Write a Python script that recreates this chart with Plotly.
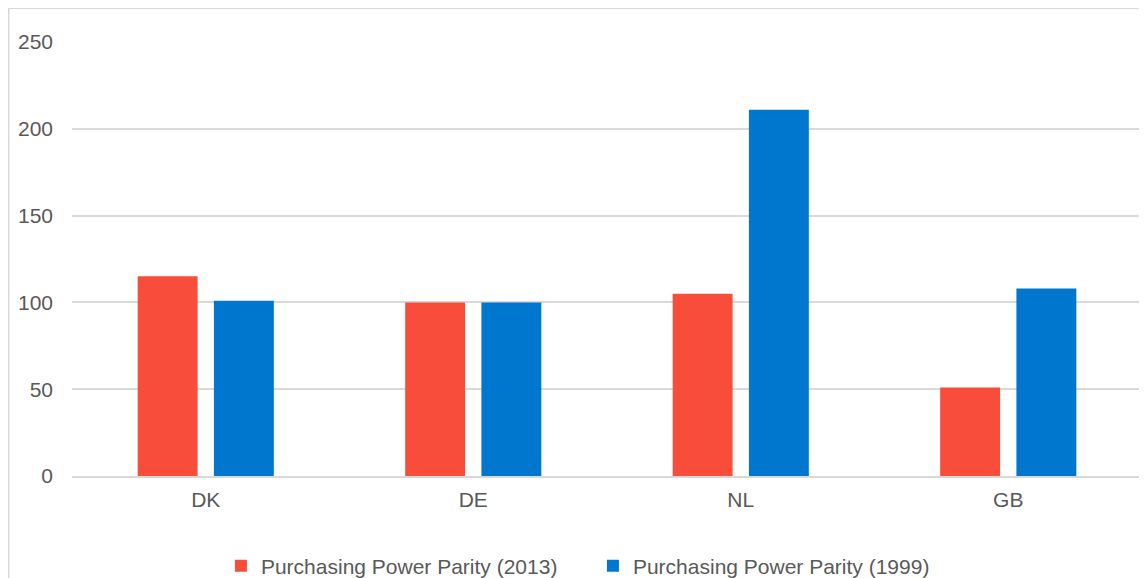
import plotly.graph_objects as go

categories = ["DK", "DE", "NL", "GB"]
ppp_2013 = [115, 100, 105, 51]
ppp_1999 = [101, 100, 211, 108]
series_names = ["Purchasing Power Parity (2013)", "Purchasing Power Parity (1999)"]
y_ticks = [0, 50, 100, 150, 200, 250]

RED = "#F94D3C"
BLUE = "#0077CE"
GRID = "#D9D9D9"
TEXT = "#595959"
FONT = "Liberation Sans, Arial, sans-serif"

# the page puts the figure 8px in from the window's top-left corner
W, H = 1139, 570
ML, MR, MT, MB = 64, 4.5, 34, 102
pw = W - ML - MR
ph = H - MT - MB

fig = go.Figure()
fig.add_trace(go.Bar(x=categories, y=ppp_2013, name=series_names[0],
                     marker=dict(color=RED, line=dict(width=0))))
fig.add_trace(go.Bar(x=categories, y=ppp_1999, name=series_names[1],
                     marker=dict(color=BLUE, line=dict(width=0))))

def px2paper_x(px):
    return (px - ML) / pw

def px2paper_y(py):
    return (H - MB - py) / ph

# chart-area border
fig.add_shape(type="rect", xref="paper", yref="paper",
              x0=px2paper_x(0.75), x1=px2paper_x(W + 10),
              y0=px2paper_y(H + 10), y1=px2paper_y(0.25),
              line=dict(color=GRID, width=1.5), fillcolor="rgba(0,0,0,0)",
              layer="below")

fig.update_layout(
    width=W, height=H,
    margin=dict(l=ML, r=MR, t=MT, b=MB, autoexpand=False),
    paper_bgcolor="white", plot_bgcolor="white",
    barmode="group", bargap=0.43, bargroupgap=0.214,
    font=dict(family=FONT, size=21, color=TEXT),
    showlegend=True,
    legend=dict(orientation="h", x=px2paper_x(213), xanchor="left", y=px2paper_y(558), yanchor="middle",
                font=dict(family=FONT, size=21, color=TEXT),
                itemwidth=30, entrywidth=327, entrywidthmode="pixels",
                tracegroupgap=0, bgcolor="rgba(0,0,0,0)"),
    xaxis=dict(showgrid=False, showline=True, linecolor=GRID, linewidth=1.5,
               ticks="", tickfont=dict(family=FONT, size=21, color=TEXT),
               ticklabelstandoff=4, zeroline=False),
    yaxis=dict(range=[0, 250], tickvals=y_ticks, showgrid=True, gridcolor=GRID,
               gridwidth=1.5, zeroline=False, showline=False, ticks="",
               tickfont=dict(family=FONT, size=21, color=TEXT),
               ticklabelstandoff=18),
)

fig.write_html("out.html")
